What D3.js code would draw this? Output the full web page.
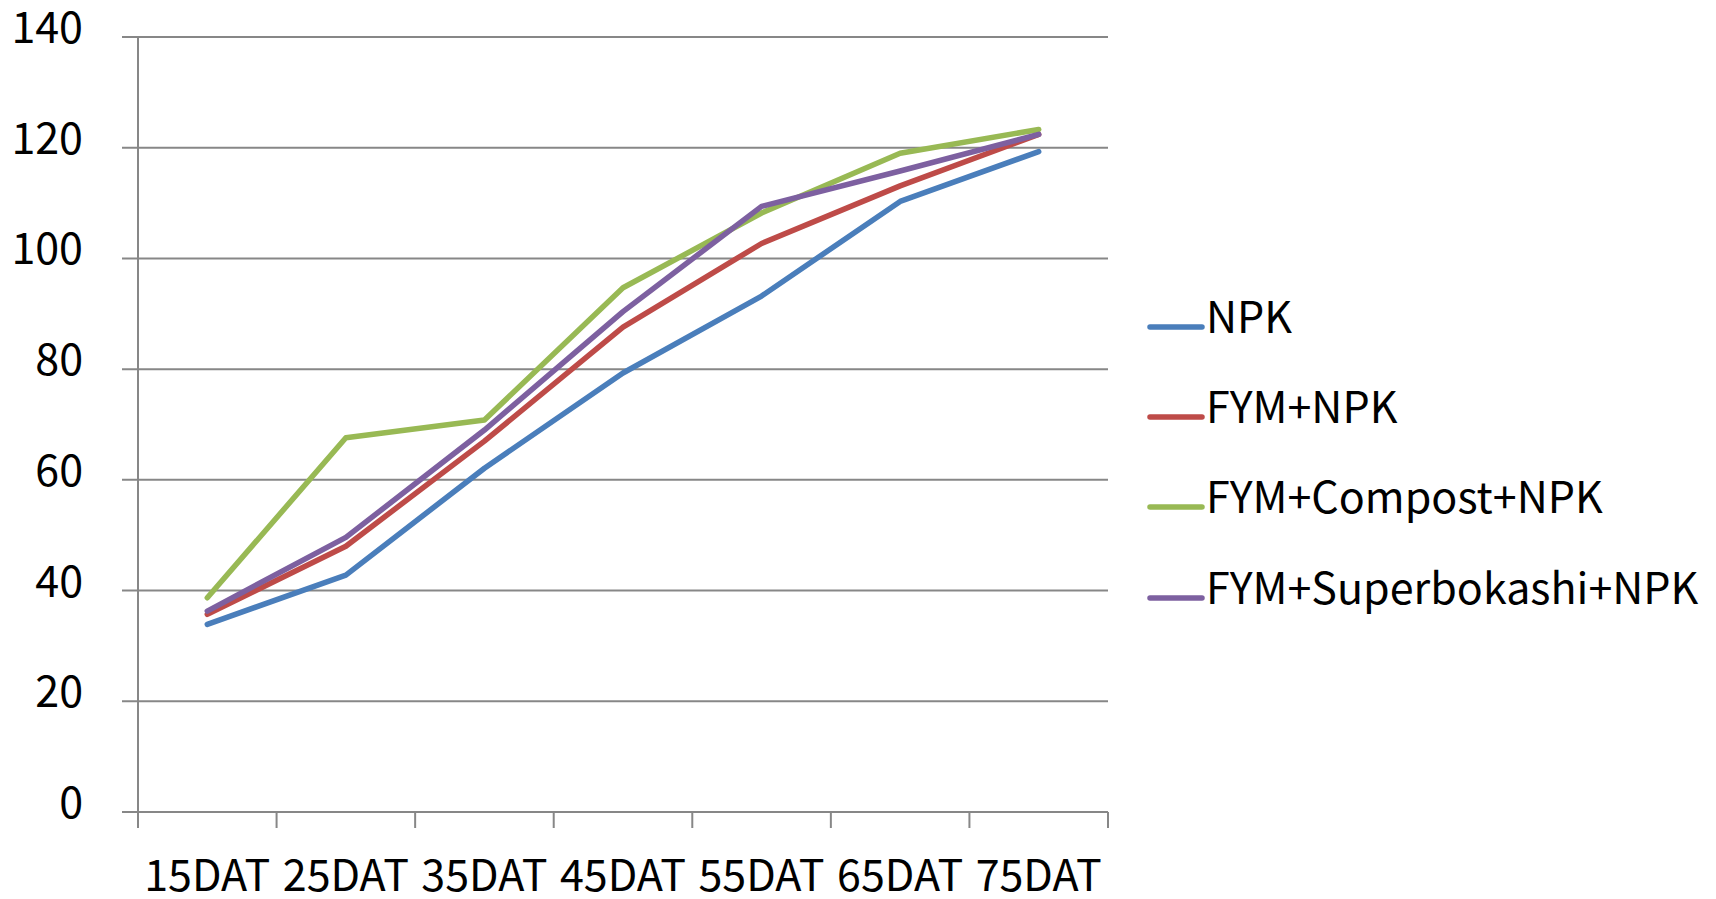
<!DOCTYPE html>
<html><head><meta charset="utf-8">
<script src="https://cdn.jsdelivr.net/npm/d3@7"></script>
<style>html,body{margin:0;padding:0;background:#fff;}svg{display:block;}</style>
</head><body>
<svg id="chart" width="1716" height="899"></svg>
<script>
const categories = ["15DAT","25DAT","35DAT","45DAT","55DAT","65DAT","75DAT"];
const seriesNames = ["NPK","FYM+NPK","FYM+Compost+NPK","FYM+Superbokashi+NPK"];
const npk         = [33.9, 42.8, 62.1, 79.3, 93.2, 110.3, 119.3];
const fymNpk      = [35.7, 48.0, 67.0, 87.6, 102.7, 113.1, 122.4];
const fymCompost  = [38.7, 67.6, 70.8, 94.7, 108.2, 119.0, 123.3];
const fymSuper    = [36.3, 49.6, 69.0, 90.4, 109.4, 115.8, 122.4];
const yTicks = [0,20,40,60,80,100,120,140];
const colors = ["#4A7EBB","#BE4B48","#98B954","#7D60A0"];

(function(){
const seriesValues = [npk, fymNpk, fymCompost, fymSuper];
const font = "'Noto Sans CJK JP','Noto Sans CJK SC',sans-serif";
const fs = 43;
const svg = d3.select("#chart");
const pLeft = 138, pRight = 1108, pTop = 37, pBottom = 812;

const x = d3.scaleBand().domain(categories).range([pLeft, pRight]).padding(0);
const y = d3.scaleLinear().domain([0,140]).range([pBottom, pTop]);

// gridlines
svg.append("g").selectAll("line").data(yTicks).join("line")
  .attr("x1", pLeft - 16).attr("x2", pRight)
  .attr("y1", d => y(d)).attr("y2", d => y(d))
  .attr("stroke", "#878787").attr("stroke-width", 2);

// y axis line
svg.append("line").attr("x1", pLeft).attr("x2", pLeft).attr("y1", pTop).attr("y2", pBottom + 16)
  .attr("stroke", "#878787").attr("stroke-width", 2);

// x ticks at band boundaries
const bounds = categories.map(c => x(c)).concat([pRight]);
svg.append("g").selectAll("line").data(bounds.slice(1)).join("line")
  .attr("x1", d => d).attr("x2", d => d).attr("y1", pBottom).attr("y2", pBottom + 16)
  .attr("stroke", "#878787").attr("stroke-width", 2);

// y labels
svg.append("g").selectAll("text").data(yTicks).join("text")
  .attr("x", 83).attr("y", d => y(d) + 6)
  .attr("text-anchor", "end").attr("font-family", font).attr("font-size", fs).attr("fill", "#000")
  .text(d => d);

// x labels
svg.append("g").selectAll("text").data(categories).join("text")
  .attr("x", d => x(d) + x.bandwidth()/2).attr("y", 891)
  .attr("text-anchor", "middle").attr("font-family", font).attr("font-size", fs).attr("fill", "#000")
  .text(d => d);

// lines
const line = d3.line().x((d,i) => x(categories[i]) + x.bandwidth()/2).y(d => y(d));
seriesValues.forEach((vals, k) => {
  svg.append("path").datum(vals).attr("d", line)
    .attr("fill", "none").attr("stroke", colors[k]).attr("stroke-width", 5.5)
    .attr("stroke-linejoin", "round").attr("stroke-linecap", "round");
});

// legend
const legendY = [327, 417, 507, 598];
const lg = svg.append("g");
seriesNames.forEach((name, k) => {
  lg.append("line").attr("x1", 1150).attr("x2", 1202).attr("y1", legendY[k]).attr("y2", legendY[k])
    .attr("stroke", colors[k]).attr("stroke-width", 5.5).attr("stroke-linecap", "round");
  lg.append("text").attr("x", 1206).attr("y", legendY[k] + 6)
    .attr("font-family", font).attr("font-size", fs).attr("fill", "#000").text(name);
});
})();
</script>
</body></html>
